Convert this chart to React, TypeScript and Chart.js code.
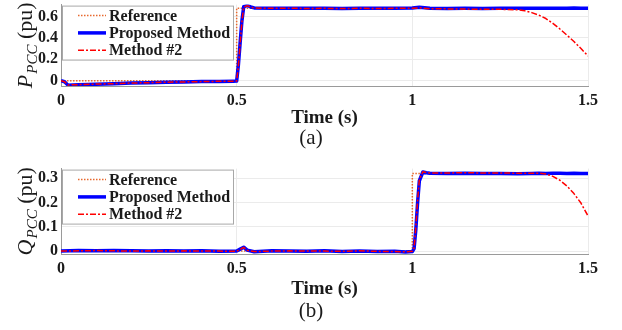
import React, { useEffect, useRef } from 'react';
import { Chart, registerables } from 'chart.js';

Chart.register(...registerables);

// ---------- data ----------
const xTicks = [0, 0.5, 1, 1.5];
const xTickLabels = ['0', '0.5', '1', '1.5'];
const pTicks = [0, 0.2, 0.4, 0.6];
const pTickLabels = ['0', '0.2', '0.4', '0.6'];
const qTicks = [0, 0.1, 0.2, 0.3];
const qTickLabels = ['0', '0.1', '0.2', '0.3'];

const seriesNames = ['Reference', 'Proposed Method', 'Method #2'];

// (a) active power
const refTimeP = [0, 0.5, 0.5, 1.5];
const refP = [0, 0, 0.675, 0.675];
const timeP = [0, 0.01, 0.02, 0.05, 0.1, 0.15, 0.2, 0.25, 0.3, 0.35, 0.4, 0.45, 0.49, 0.5, 0.505, 0.51, 0.515, 0.52, 0.53, 0.54, 0.55, 0.6, 0.65, 0.7, 0.75, 0.8, 0.85, 0.9, 0.95, 1.0, 1.02, 1.05, 1.1, 1.15, 1.2, 1.25, 1.3, 1.32, 1.34, 1.36, 1.38, 1.4, 1.42, 1.44, 1.46, 1.48, 1.5];
const proposedP = [0, -0.01, -0.042, -0.038, -0.033, -0.028, -0.023, -0.019, -0.015, -0.012, -0.009, -0.007, -0.005, -0.004, 0.15, 0.36, 0.56, 0.69, 0.702, 0.688, 0.679, 0.676, 0.677, 0.675, 0.676, 0.674, 0.676, 0.675, 0.676, 0.678, 0.685, 0.676, 0.674, 0.675, 0.674, 0.675, 0.676, 0.675, 0.676, 0.677, 0.676, 0.677, 0.676, 0.677, 0.678, 0.677, 0.677];
const method2P = [0, -0.01, -0.04, -0.037, -0.032, -0.028, -0.022, -0.019, -0.014, -0.012, -0.009, -0.006, -0.005, -0.004, 0.14, 0.35, 0.55, 0.685, 0.7, 0.686, 0.678, 0.675, 0.676, 0.674, 0.675, 0.673, 0.675, 0.674, 0.675, 0.676, 0.68, 0.672, 0.67, 0.668, 0.667, 0.666, 0.662, 0.652, 0.635, 0.612, 0.58, 0.535, 0.482, 0.425, 0.365, 0.3, 0.23];

// (b) reactive power
const refTimeQ = [0, 1.0, 1.0, 1.5];
const refQ = [0, 0, 0.32, 0.32];
const timeQ = [0, 0.05, 0.1, 0.15, 0.2, 0.25, 0.3, 0.35, 0.4, 0.45, 0.5, 0.51, 0.52, 0.53, 0.55, 0.6, 0.65, 0.7, 0.75, 0.8, 0.85, 0.9, 0.95, 0.98, 1.0, 1.005, 1.01, 1.015, 1.02, 1.03, 1.04, 1.05, 1.1, 1.15, 1.2, 1.25, 1.3, 1.34, 1.36, 1.38, 1.4, 1.42, 1.44, 1.46, 1.48, 1.5];
const proposedQ = [0, 0.002, 0.001, 0.002, 0.001, 0, 0.001, 0, 0.001, -0.001, 0, 0.008, 0.016, 0.004, -0.003, 0.001, 0, -0.001, 0.001, -0.002, 0, -0.002, -0.001, -0.004, -0.002, 0.01, 0.09, 0.2, 0.29, 0.326, 0.323, 0.321, 0.32, 0.321, 0.32, 0.32, 0.319, 0.32, 0.321, 0.32, 0.321, 0.321, 0.32, 0.321, 0.32, 0.32];
const method2Q = [0, 0.001, 0.002, 0.001, 0, 0.001, 0, 0.001, 0, 0, -0.001, 0.007, 0.015, 0.003, -0.002, 0, 0.001, 0, 0, -0.001, 0.001, -0.001, -0.002, -0.003, -0.001, 0.012, 0.1, 0.21, 0.295, 0.327, 0.324, 0.322, 0.322, 0.323, 0.322, 0.322, 0.321, 0.321, 0.321, 0.318, 0.308, 0.292, 0.268, 0.237, 0.198, 0.145];

// ---------- styling ----------
const SERIF = "'Liberation Serif', 'Times New Roman', serif";
const TEXT = '#1a1a1a';
const GRID = '#ebebeb';
const AXIS = '#9a9a9a';

const pts = (xs: number[], ys: number[]) => xs.map((x, i) => ({ x, y: ys[i] }));

type PanelProps = {
  height: number;
  padTop: number;
  axisHeight: number;
  refTime: number[];
  refValues: number[];
  time: number[];
  proposed: number[];
  method2: number[];
  yMin: number;
  yMax: number;
  yTicks: number[];
  yTickLabels: string[];
  symbol: string;
  caption: string;
  titleOffset: number;
  captionOffset: number;
};

function Panel(props: PanelProps) {
  const canvasRef = useRef<HTMLCanvasElement | null>(null);
  useEffect(() => {
    if (!canvasRef.current) return;
    const textPlugin = {
      id: 'panelText',
      afterDraw(chart: any) {
        const { ctx, chartArea: a } = chart;
        ctx.save();
        // legend box
        const lx = a.left + 1, ly = a.top + 1, lw = 171, lh = 54;
        ctx.fillStyle = '#ffffff';
        ctx.fillRect(lx, ly, lw, lh);
        ctx.strokeStyle = '#a8a8a8';
        ctx.lineWidth = 1;
        ctx.strokeRect(lx + 0.5, ly + 0.5, lw, lh);
        chart.data.datasets.forEach((ds: any, i: number) => {
          const cy = ly + 10 + i * 17.3;
          ctx.beginPath();
          ctx.setLineDash(ds.borderDash || []);
          ctx.strokeStyle = ds.borderColor;
          ctx.lineWidth = ds.borderWidth;
          ctx.moveTo(lx + 16, cy);
          ctx.lineTo(lx + 44, cy);
          ctx.stroke();
          ctx.setLineDash([]);
          ctx.fillStyle = TEXT;
          ctx.font = `bold 16px ${SERIF}`;
          ctx.textBaseline = 'middle';
          ctx.textAlign = 'left';
          ctx.fillText(ds.label, lx + 47, cy + 1);
        });
        // x title + caption
        ctx.fillStyle = TEXT;
        ctx.textAlign = 'center';
        ctx.textBaseline = 'middle';
        ctx.font = `bold 19px ${SERIF}`;
        ctx.fillText('Time (s)', (a.left + a.right) / 2, a.bottom + props.titleOffset);
        ctx.font = `21px ${SERIF}`;
        ctx.fillText(props.caption, chart.width / 2, a.bottom + props.captionOffset);
        // y title with subscript
        ctx.save();
        ctx.translate(32, (a.top + a.bottom) / 2);
        ctx.rotate(-Math.PI / 2);
        const big = `italic 22px ${SERIF}`;
        const sub = `italic 15px ${SERIF}`;
        const reg = `22px ${SERIF}`;
        ctx.font = big; const wP = ctx.measureText(props.symbol).width;
        ctx.font = sub; const wS = ctx.measureText('PCC').width;
        ctx.font = reg; const wU = ctx.measureText(' (pu)').width;
        let x = -(wP + 1 + wS + wU) / 2;
        ctx.textAlign = 'left';
        ctx.textBaseline = 'alphabetic';
        ctx.font = big; ctx.fillText(props.symbol, x, 0); x += wP + 1;
        ctx.font = sub; ctx.fillText('PCC', x, 5); x += wS;
        ctx.font = reg; ctx.fillText(' (pu)', x, 0);
        ctx.restore();
        ctx.restore();
      },
    };

    const chart = new Chart(canvasRef.current, {
      type: 'line',
      data: {
        datasets: [
          {
            label: seriesNames[0],
            data: pts(props.refTime, props.refValues),
            borderColor: '#e8692e',
            borderWidth: 1.5,
            borderDash: [1.5, 1.5],
            pointRadius: 0,
            order: 3,
          },
          {
            label: seriesNames[1],
            data: pts(props.time, props.proposed),
            borderColor: '#0000ff',
            borderWidth: 3.5,
            pointRadius: 0,
            order: 2,
          },
          {
            label: seriesNames[2],
            data: pts(props.time, props.method2),
            borderColor: '#ff0000',
            borderWidth: 1.5,
            borderDash: [6, 2, 2, 2],
            pointRadius: 0,
            order: 1,
          },
        ],
      },
      options: {
        animation: false,
        responsive: false,
        devicePixelRatio: 1,
        layout: { padding: { top: props.padTop, right: 34, left: 0, bottom: 0 } },
        plugins: { legend: { display: false }, tooltip: { enabled: false } },
        elements: { line: { tension: 0, borderJoinStyle: 'round' } },
        scales: {
          x: {
            type: 'linear',
            min: 0,
            max: 1.5,
            afterBuildTicks: (s: any) => { s.ticks = xTicks.map((v) => ({ value: v })); },
            afterFit: (s: any) => { s.height = props.axisHeight; },
            ticks: {
              autoSkip: false,
              maxRotation: 0,
              padding: 5,
              color: TEXT,
              font: { family: SERIF, size: 16, weight: 'bold' },
              callback: (v: any) => xTickLabels[xTicks.indexOf(Number(v))],
            },
            grid: { color: GRID, drawTicks: false },
            border: { color: AXIS },
          },
          y: {
            type: 'linear',
            min: props.yMin,
            max: props.yMax,
            afterBuildTicks: (s: any) => { s.ticks = props.yTicks.map((v) => ({ value: v })); },
            afterFit: (s: any) => { s.width = 61; },
            ticks: {
              padding: 3,
              color: TEXT,
              font: { family: SERIF, size: 16, weight: 'bold', lineHeight: 0.2 },
              callback: (v: any) => props.yTickLabels[props.yTicks.indexOf(Number(v))],
            },
            grid: { color: GRID, drawTicks: false },
            border: { color: AXIS },
          },
        },
      },
      plugins: [textPlugin],
    } as any);
    return () => chart.destroy();
  }, []);
  return <canvas ref={canvasRef} width={622} height={props.height} style={{ display: 'block' }} />;
}

export default function App() {
  return (
    <div style={{ position: 'absolute', left: 0, top: 0, width: 622, height: 330, background: '#fff' }}>
      <Panel
        height={164}
        padTop={2}
        axisHeight={78}
        refTime={refTimeP}
        refValues={refP}
        time={timeP}
        proposed={proposedP}
        method2={method2P}
        yMin={-0.05}
        yMax={0.71}
        yTicks={pTicks}
        yTickLabels={pTickLabels}
        symbol="P"
        caption="(a)"
        titleOffset={32}
        captionOffset={52}
      />
      <Panel
        height={166}
        padTop={2}
        axisHeight={76}
        refTime={refTimeQ}
        refValues={refQ}
        time={timeQ}
        proposed={proposedQ}
        method2={method2Q}
        yMin={-0.012}
        yMax={0.34}
        yTicks={qTicks}
        yTickLabels={qTickLabels}
        symbol="Q"
        caption="(b)"
        titleOffset={35}
        captionOffset={57}
      />
    </div>
  );
}
